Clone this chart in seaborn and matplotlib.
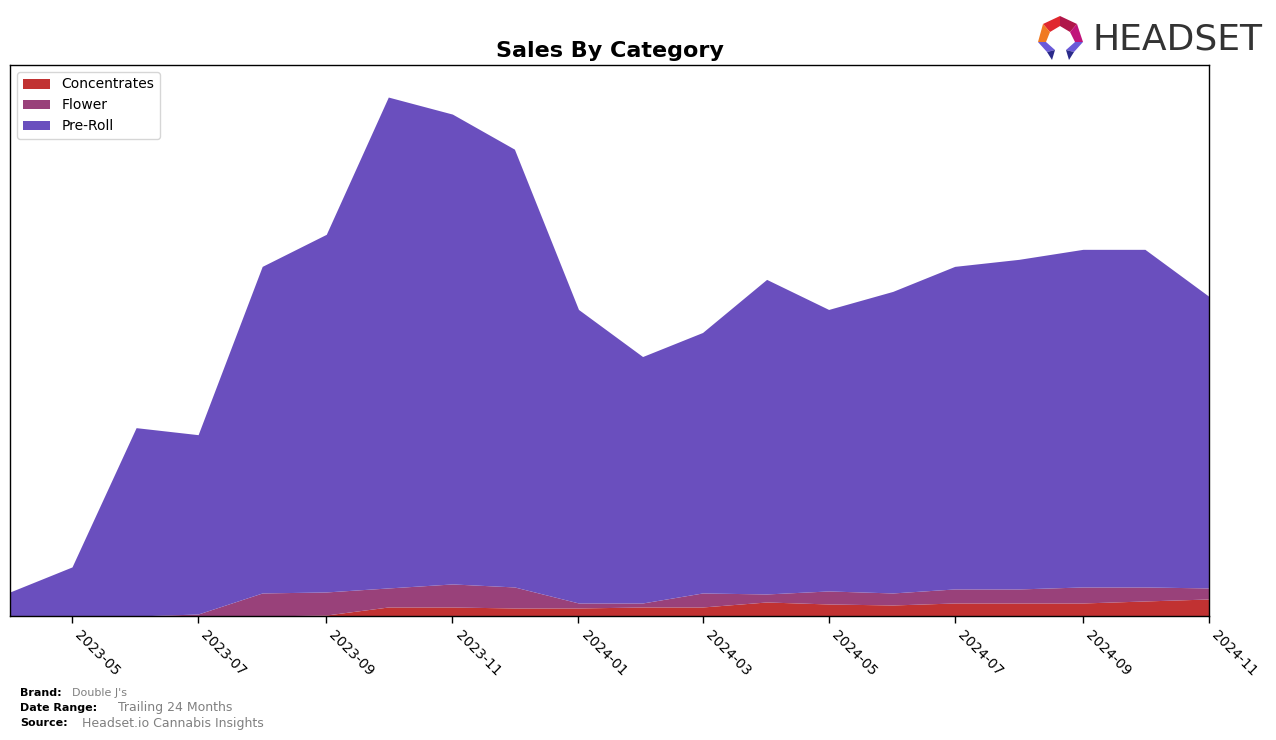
import matplotlib
matplotlib.use("Agg")
import matplotlib.pyplot as plt
from matplotlib.patches import Polygon
from matplotlib import font_manager
import numpy as np
import pandas as pd
import seaborn as sns

# ---- data (monthly, arbitrary sales units) ----
months = ["2023-04", "2023-05", "2023-06", "2023-07", "2023-08", "2023-09",
          "2023-10", "2023-11", "2023-12", "2024-01", "2024-02", "2024-03",
          "2024-04", "2024-05", "2024-06", "2024-07", "2024-08", "2024-09",
          "2024-10", "2024-11"]
concentrates = [0, 0, 0, 0, 0, 1, 9, 9, 8, 8, 9, 9, 14, 12, 11, 13, 13, 13, 15, 17]
flower = [0, 0, 0, 2, 23, 23, 19, 23, 21, 5, 4, 14, 8, 13, 12, 14, 14, 16, 14, 11]
pre_roll = [24, 49, 188, 179, 326, 357, 490, 469, 437, 293, 246, 260, 314, 281,
            301, 322, 329, 337, 337, 291]
categories = ["Concentrates", "Flower", "Pre-Roll"]
colors = ["#C13232", "#99417A", "#6A4FBE"]
tick_labels = ["2023-05", "2023-07", "2023-09", "2023-11", "2024-01", "2024-03",
               "2024-05", "2024-07", "2024-09", "2024-11"]

df = pd.DataFrame({"month": pd.to_datetime(months),
                   "Concentrates": concentrates,
                   "Flower": flower,
                   "Pre-Roll": pre_roll})

sns.set_style("white")
plt.rcParams['font.family'] = ['DejaVu Sans']
plt.rcParams['text.color'] = 'black'
plt.rcParams['axes.labelcolor'] = 'black'
plt.rcParams['xtick.color'] = 'black'
plt.rcParams['ytick.color'] = 'black'

fig = plt.figure(figsize=(12.76, 7.40), dpi=100)
ax = fig.add_axes([10 / 1276, 1 - 616 / 740, (1209 - 10) / 1276, (616 - 65) / 740])

ax.stackplot(df["month"], [df[c] for c in categories], labels=categories,
             colors=colors, linewidth=0)

ax.set_xlim(df["month"].iloc[0], df["month"].iloc[-1])
ax.set_ylim(0, 550)
ax.set_yticks([])
ticks = pd.to_datetime(tick_labels)
ax.set_xticks(ticks)
ax.set_xticklabels(tick_labels, rotation=-45, ha="left", fontsize=10, color="black")
ax.tick_params(axis="x", which="both", bottom=True, length=5, width=1,
               color="black", direction="out", pad=4)
for s in ax.spines.values():
    s.set_visible(True)
    s.set_color("black")
    s.set_linewidth(1)

ax.set_title("Sales By Category", fontsize=16, fontweight="bold", pad=6, color="black")

leg = ax.legend(loc="upper left", fontsize=10, frameon=True, borderpad=0.4,
                handlelength=2, handleheight=0.7, labelspacing=0.5,
                bbox_to_anchor=(0.0, 1.0))
leg.get_frame().set_edgecolor("#cccccc")
for t in leg.get_texts():
    t.set_color("black")

# ---- footer ----
fig.text(20 / 1276, 1 - 693 / 740, "Brand:", fontsize=8, fontweight="bold", va="center", color="black")
fig.text(72 / 1276, 1 - 693 / 740, "Double J's", fontsize=8, color="gray", va="center")
fig.text(20 / 1276, 1 - 708 / 740, "Date Range:", fontsize=8, fontweight="bold", va="center", color="black")
fig.text(118 / 1276, 1 - 708 / 740, "Trailing 24 Months", fontsize=9, color="gray", va="center")
fig.text(20 / 1276, 1 - 723 / 740, "Source:", fontsize=8, fontweight="bold", va="center", color="black")
fig.text(82 / 1276, 1 - 723 / 740, "Headset.io Cannabis Insights", fontsize=9, color="gray", va="center")

# ---- logo ----
names = {f.name for f in font_manager.fontManager.ttflist}
logo_family = "Liberation Sans Narrow" if "Liberation Sans Narrow" in names else "DejaVu Sans"
logo_size = 33 if logo_family == "Liberation Sans Narrow" else 26
fig.text(1092 / 1276, 1 - 39 / 740, "HEADSET", fontsize=logo_size, color="#333333",
         va="center", ha="left", family=logo_family)

def px(x, y):
    return (x / 1276, 1 - y / 740)

logo_polys = [
    ([(1043, 24), (1060, 16), (1060, 26), (1050, 32)], "#E0282E"),
    ([(1060, 16), (1077, 24), (1070, 32), (1060, 26)], "#B0164A"),
    ([(1077, 24), (1083, 42), (1075, 42), (1070, 32)], "#C0147A"),
    ([(1043, 24), (1050, 32), (1046, 42), (1038, 42)], "#F07A22"),
    ([(1038, 42), (1046, 42), (1055, 50), (1047, 52)], "#6A5AD8"),
    ([(1047, 52), (1055, 50), (1052, 60)], "#2A2A8A"),
    ([(1083, 42), (1075, 42), (1066, 50), (1074, 52)], "#6A5AD8"),
    ([(1074, 52), (1066, 50), (1069, 60)], "#2A2A8A"),
]
for pts, c in logo_polys:
    fig.patches.append(Polygon([px(*p) for p in pts], closed=True, facecolor=c,
                               edgecolor="none", transform=fig.transFigure))

fig.savefig("out.png", dpi=100)
